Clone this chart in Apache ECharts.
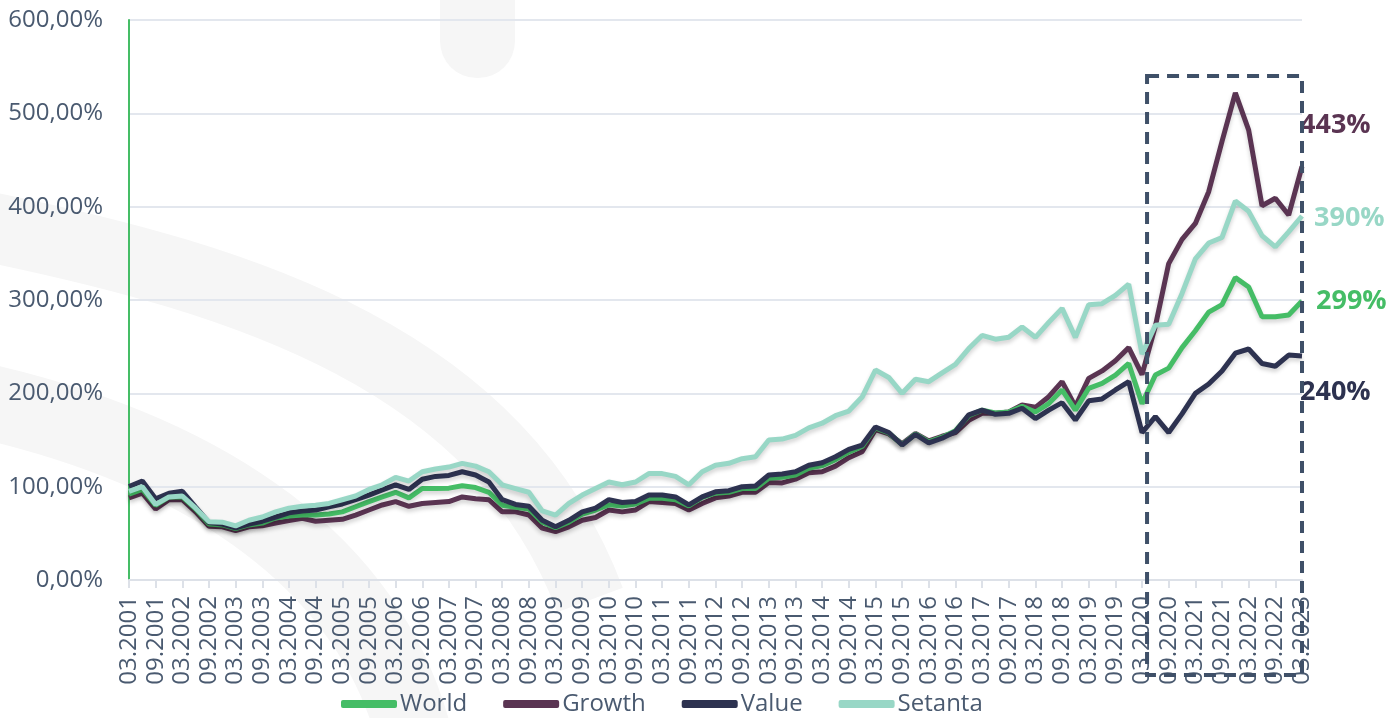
<!DOCTYPE html>
<html>
<head>
<meta charset="utf-8">
<script src="https://cdn.jsdelivr.net/npm/echarts@6/dist/echarts.min.js"></script>
<style>
  html, body { margin: 0; padding: 0; background: #fff; }
  #main { width: 1391px; height: 718px; }
</style>
</head>
<body>
<div id="main"></div>
<script>
// quarters 03.2001 .. 03.2023
var quarters = [];
for (var yr = 2001; yr <= 2023; yr++) {
    ['03', '06', '09', '12'].forEach(function (m) {
        if (yr === 2023 && m !== '03') return;
        quarters.push(m + '.' + yr);
    });
}

var world = [92, 97, 80, 89, 89, 76, 60, 59, 55, 59,
    61, 66.5, 68.6, 69.6, 69.6, 70.7, 73, 78.5, 84, 89,
    94, 88, 98, 98, 98.4, 101, 99, 94, 80, 78,
    76, 62, 56, 62, 70.5, 75, 80.5, 79.3, 81.4, 87.5,
    87.5, 86, 79.3, 88.6, 93, 94, 98, 98, 109, 110,
    112.5, 119.6, 122.5, 129, 137, 143, 163, 157.5, 145, 156.5,
    148, 153, 160, 176, 182, 179, 180, 186, 180, 189,
    203.6, 182, 205.4, 210.7, 219.6, 232, 189, 219.6, 227, 249,
    267, 287, 295, 324, 314, 282, 282, 284, 299];

var growth = [88, 93, 76, 86, 86, 73, 57.5, 57, 53, 57,
    58, 61, 63.6, 66, 63, 64, 65, 69.6, 75, 80.4,
    84, 79, 82, 83, 84, 89, 87, 86, 73, 73,
    69.6, 55.5, 51.8, 57, 64, 67, 75, 73, 75, 84,
    83, 82, 75, 82, 88, 90, 94, 94, 104.5, 104,
    108, 115, 116, 122, 131, 137.5, 161, 156.5, 146, 157,
    149, 154, 158, 171, 178.6, 178.6, 180, 187.5, 185, 196.4,
    212.5, 186, 216, 224, 235, 249, 220, 272, 339, 365,
    382, 416, 470, 522, 482, 401, 409, 391, 443];

var value = [100, 106, 87, 93, 95, 78, 61.5, 60, 56, 60,
    63, 67.5, 72, 74, 75, 78.5, 81.5, 86, 91, 96.5,
    102, 97, 108, 111, 112, 116, 112.5, 105, 86, 81,
    79, 64, 57, 64, 73, 77, 86, 83, 84, 91,
    91, 89, 80.5, 89, 94.5, 95.7, 100, 100.7, 112.5, 113.6,
    116, 123, 125.7, 132, 140, 144.6, 164, 158, 144.6, 156,
    147, 152, 159, 177, 182, 177.5, 178.6, 184, 173, 182,
    190, 171.4, 192, 194, 203.6, 212.5, 158, 175, 158, 178,
    200, 210, 224, 243, 247.5, 232, 229, 241, 240];

var setanta = [95, 100, 81, 89, 90, 77, 62.5, 62, 58, 64,
    67.5, 73, 77, 79, 80, 82, 86, 90, 97, 102,
    110, 106, 116, 119, 121, 125, 122, 116, 102, 98,
    94, 74, 69.6, 82, 91, 98, 105, 102, 105, 114,
    114, 111, 102, 116, 123, 125, 130, 132, 150, 151,
    155, 163, 168, 176, 181, 196, 225, 217, 200, 215,
    212.5, 222, 231, 248, 262, 258, 260, 271, 260, 276,
    291, 260, 295, 296, 305, 317, 242, 273, 274, 307,
    344, 361, 367, 406, 395, 369, 357, 373, 390];

var seriesNames = ['World', 'Growth', 'Value', 'Setanta'];
var colors = ['#45bd66', '#5a3452', '#2d3250', '#98d7c6'];
var yTicks = [0, 100, 200, 300, 400, 500, 600];

var chart = echarts.init(document.getElementById('main'));
var font = "'Open Sans', 'Noto Sans', sans-serif";
var labelColor = '#4a5a70';

function line(name, data, color, z, labelOffset) {
    return {
        name: name,
        type: 'line',
        data: data,
        z: z,
        symbol: 'none',
        lineStyle: {
            width: 5,
            color: color,
            shadowColor: 'rgba(0,0,0,0.18)',
            shadowBlur: 4,
            shadowOffsetY: 3
        },
        itemStyle: { color: color },
        endLabel: {
            show: true,
            distance: 0,
            offset: labelOffset,
            color: color,
            fontFamily: font,
            fontWeight: 'bold',
            fontSize: 27,
            formatter: function (p) { return Math.round(p.value) + '%'; }
        }
    };
}

var option = {
    animation: false,
    backgroundColor: '#ffffff',
    textStyle: { fontFamily: font },
    grid: { left: 129, right: 89, top: 20, bottom: 138 },
    legend: {
        bottom: -3,
        left: 336,
        icon: 'roundRect',
        itemWidth: 56,
        itemHeight: 8,
        itemGap: 36,
        data: seriesNames,
        textStyle: { color: labelColor, fontSize: 24, fontFamily: font, padding: [0, 0, 0, -2] }
    },
    xAxis: {
        type: 'category',
        data: quarters,
        boundaryGap: false,
        axisLine: { lineStyle: { color: '#dde1e8', width: 2 } },
        axisTick: { interval: 1, length: 8, lineStyle: { color: '#dde1e8', width: 2 } },
        axisLabel: {
            interval: 1,
            rotate: 90,
            margin: 16,
            color: labelColor,
            fontSize: 24,
            fontFamily: font
        },
        splitLine: { show: false }
    },
    yAxis: {
        type: 'value',
        min: yTicks[0],
        max: yTicks[yTicks.length - 1],
        interval: 100,
        axisLine: { show: true, lineStyle: { color: '#45bd66', width: 2 } },
        axisTick: { show: false },
        axisLabel: {
            margin: 26,
            color: labelColor,
            fontSize: 24,
            fontFamily: font,
            formatter: function (v) { return v.toFixed(2).replace('.', ',') + '%'; }
        },
        splitLine: { lineStyle: { color: '#e3e7ee', width: 2 } }
    },
    series: [
        line('World', world, colors[0], 3, [14, 0]),
        line('Growth', growth, colors[1], 2, [-2, -41]),
        line('Value', value, colors[2], 4, [-2, 36]),
        line('Setanta', setanta, colors[3], 5, [12, 2])
    ]
};

chart.setOption(option);

// dashed box around the last three years + faint background shapes
var tl = chart.convertToPixel({ xAxisIndex: 0, yAxisIndex: 0 }, [quarters[76], 540]);
var br = chart.convertToPixel({ xAxisIndex: 0, yAxisIndex: 0 }, [quarters[88], 0]);
var bg = '#f6f6f6';

chart.setOption({
    graphic: {
        elements: [
            { type: 'rect', z: -10, silent: true,
              shape: { x: 440, y: -40, width: 75, height: 118, r: 37 },
              style: { fill: bg } },
            { type: 'bezierCurve', z: -10, silent: true,
              shape: { x1: -20, y1: 225, cpx1: 250, cpy1: 280, cpx2: 500, cpy2: 360, x2: 590, y2: 600 },
              style: { stroke: bg, lineWidth: 70, fill: null } },
            { type: 'bezierCurve', z: -10, silent: true,
              shape: { x1: -20, y1: 400, cpx1: 200, cpy1: 450, cpx2: 380, cpy2: 560, x2: 420, y2: 760 },
              style: { stroke: bg, lineWidth: 75, fill: null } },
            { type: 'rect', z: 100, silent: true,
              shape: { x: tl[0] + 5, y: tl[1], width: br[0] - tl[0] - 5, height: br[1] + 95 - tl[1] },
              style: { fill: null, stroke: '#3f5068', lineWidth: 4, lineDash: [12, 8] } }
        ]
    }
});
</script>
</body>
</html>
